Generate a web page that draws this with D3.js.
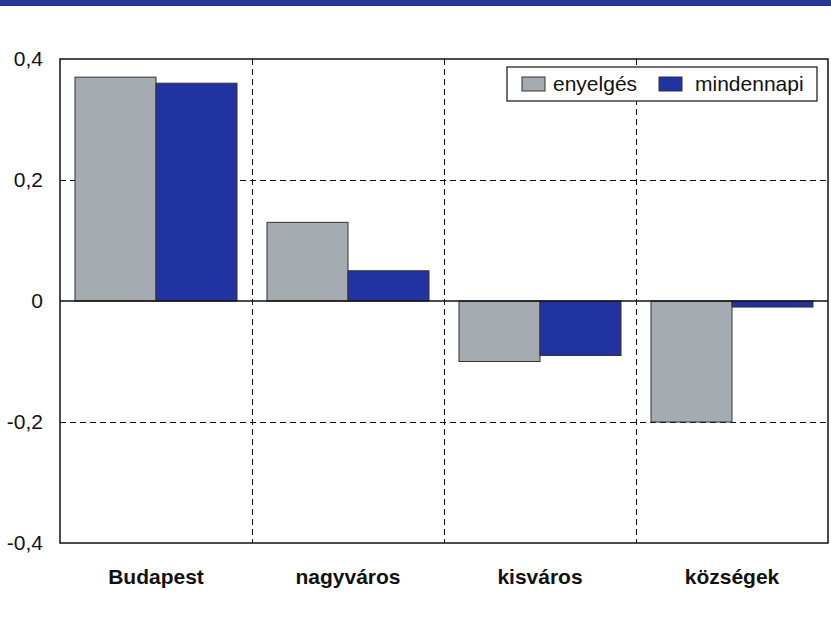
<!DOCTYPE html>
<html>
<head>
<meta charset="utf-8">
<script src="https://cdn.jsdelivr.net/npm/d3@7"></script>
<style>
  body { margin: 0; background: #fff; }
  text { font-family: "Liberation Sans", Arial, sans-serif; fill: #111; }
  .grid { shape-rendering: crispEdges; }
</style>
</head>
<body>
<div id="chart-area"></div>
<script>
// data
var categories = ["Budapest", "nagyváros", "kisváros", "községek"];
var series = ["enyelgés", "mindennapi"];
var enyelges = [0.37, 0.13, -0.10, -0.20];
var mindennapi = [0.36, 0.05, -0.09, -0.01];
var yTicks = [-0.4, -0.2, 0, 0.2, 0.4];
var colors = ["#a4abb1", "#2133a3"];

var values = [enyelges, mindennapi];

var W = 831, H = 620;
var margin = { left: 60, right: 3, top: 59, bottom: 77 };

var svg = d3.select("#chart-area")
    .append("svg")
        .attr("width", W)
        .attr("height", H);

// dark band on top of the page
svg.append("rect")
    .attr("x", 0).attr("y", 0)
    .attr("width", W).attr("height", 6)
    .attr("fill", "#2b3592");

var x0 = d3.scaleBand()
    .domain(categories)
    .range([margin.left, W - margin.right]);

var x1 = d3.scaleBand()
    .domain(series)
    .range([15, x0.bandwidth() - 15]);

var y = d3.scaleLinear()
    .domain([-0.4, 0.4])
    .range([H - margin.bottom, margin.top]);

// hungarian decimal comma, plain hyphen for minus
var fmt = function(d){
    return d === 0 ? "0" : d3.format(".1f")(d).replace(".", ",").replace("\u2212", "-");
};

// horizontal dashed grid
svg.selectAll(".hgrid")
    .data(yTicks.filter(function(d){ return d !== 0 && Math.abs(d) < 0.4; }))
    .enter().append("line")
        .attr("class", "grid")
        .attr("x1", margin.left).attr("x2", W - margin.right)
        .attr("y1", function(d){ return y(d); })
        .attr("y2", function(d){ return y(d); })
        .attr("stroke", "#111")
        .attr("stroke-width", 1)
        .attr("stroke-dasharray", "6,4");

// vertical dashed grid at category boundaries
svg.selectAll(".vgrid")
    .data(categories.slice(1))
    .enter().append("line")
        .attr("class", "grid")
        .attr("x1", function(d){ return x0(d); })
        .attr("x2", function(d){ return x0(d); })
        .attr("y1", margin.top).attr("y2", H - margin.bottom)
        .attr("stroke", "#111")
        .attr("stroke-width", 1)
        .attr("stroke-dasharray", "6,4");

// bars
var groups = svg.selectAll(".grp")
    .data(categories)
    .enter().append("g")
        .attr("transform", function(d){ return "translate(" + x0(d) + ",0)"; });

groups.selectAll("rect")
    .data(function(d, i){
        return series.map(function(s, j){ return { s: s, v: values[j][i], j: j }; });
    })
    .enter().append("rect")
        .attr("x", function(d){ return x1(d.s); })
        .attr("width", x1.bandwidth())
        .attr("y", function(d){ return y(Math.max(0, d.v)); })
        .attr("height", function(d){ return Math.abs(y(d.v) - y(0)); })
        .attr("fill", function(d){ return colors[d.j]; })
        .attr("stroke", "#333")
        .attr("stroke-width", 1);

// zero line
svg.append("line")
    .attr("x1", margin.left).attr("x2", W - margin.right)
    .attr("y1", y(0)).attr("y2", y(0))
    .attr("stroke", "#111")
    .attr("stroke-width", 1.5);

// frame
svg.append("rect")
    .attr("x", margin.left).attr("y", margin.top)
    .attr("width", W - margin.right - margin.left)
    .attr("height", H - margin.bottom - margin.top)
    .attr("fill", "none")
    .attr("stroke", "#111")
    .attr("stroke-width", 1.5);

// y tick labels
svg.selectAll(".ylab")
    .data(yTicks)
    .enter().append("text")
        .attr("x", 43)
        .attr("y", function(d){ return y(d); })
        .attr("dy", "0.35em")
        .attr("text-anchor", "end")
        .attr("font-size", "21px")
        .text(fmt);

// category labels
svg.selectAll(".xlab")
    .data(categories)
    .enter().append("text")
        .attr("x", function(d){ return x0(d) + x0.bandwidth() / 2; })
        .attr("y", 584)
        .attr("text-anchor", "middle")
        .attr("font-size", "21px")
        .attr("font-weight", "bold")
        .text(function(d){ return d; });

// legend
var lg = svg.append("g").attr("transform", "translate(507,67)");
lg.append("rect")
    .attr("width", 310).attr("height", 34)
    .attr("fill", "#fff")
    .attr("stroke", "#111")
    .attr("stroke-width", 1.2);

var legX = [15, 152];
var legTx = [46, 188];
series.forEach(function(s, j){
    lg.append("rect")
        .attr("x", legX[j]).attr("y", 10)
        .attr("width", 23).attr("height", 14)
        .attr("fill", colors[j])
        .attr("stroke", "#333");
    lg.append("text")
        .attr("x", legTx[j]).attr("y", 17)
        .attr("dy", "0.35em")
        .attr("font-size", "21px")
        .text(s);
});
</script>
</body>
</html>
